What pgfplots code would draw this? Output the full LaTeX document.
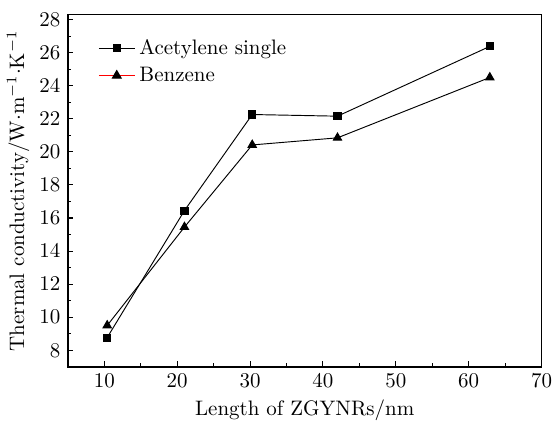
\documentclass[border=0pt]{standalone}
\usepackage{pgfplots}
\pgfplotsset{compat=1.18}

\begin{document}
\begin{tikzpicture}
\begin{axis}[
  scale only axis,
  width=226pt, height=168pt,
  xmin=5, xmax=70, ymin=7, ymax=28.3,
  xtick={10,20,...,70},
  ytick={8,10,...,28},
  minor x tick num=1,
  minor y tick num=1,
  tick pos=left,
  tick align=inside,
  major tick length=2.6pt,
  minor tick length=1.6pt,
  axis line style={line width=0.7pt},
  every tick/.style={black, line width=0.5pt},
  xlabel={Length of ZGYNRs/nm},
  ylabel={Thermal conductivity/W$\cdot$m$^{-1}\cdot$K$^{-1}$},
  xlabel style={yshift=1pt},
  ylabel style={yshift=-2pt},
  legend style={draw=none, fill=none, at={(0.05,0.955)}, anchor=north west,
    row sep=0.5pt, legend cell align=left},
]
\addlegendimage{black, line width=0.5pt, mark=square*, mark size=1.7pt}
\addlegendentry{Acetylene single}
\addlegendimage{red, line width=0.6pt, mark=triangle*, mark size=2.3pt, mark options={black, fill=black}}
\addlegendentry{Benzene}

\addplot[forget plot, black, line width=0.45pt, mark=square*, mark size=1.7pt] coordinates {
  (10.4,8.77) (21.0,16.45) (30.3,22.26) (42.0,22.16) (62.9,26.38)
};
\addplot[forget plot, black, line width=0.45pt, mark=triangle*, mark size=2.3pt] coordinates {
  (10.4,9.5) (21.0,15.45) (30.3,20.42) (42.0,20.85) (62.9,24.5)
};
\end{axis}
\path ([yshift=7pt]current axis.north west);
\end{tikzpicture}
\end{document}
